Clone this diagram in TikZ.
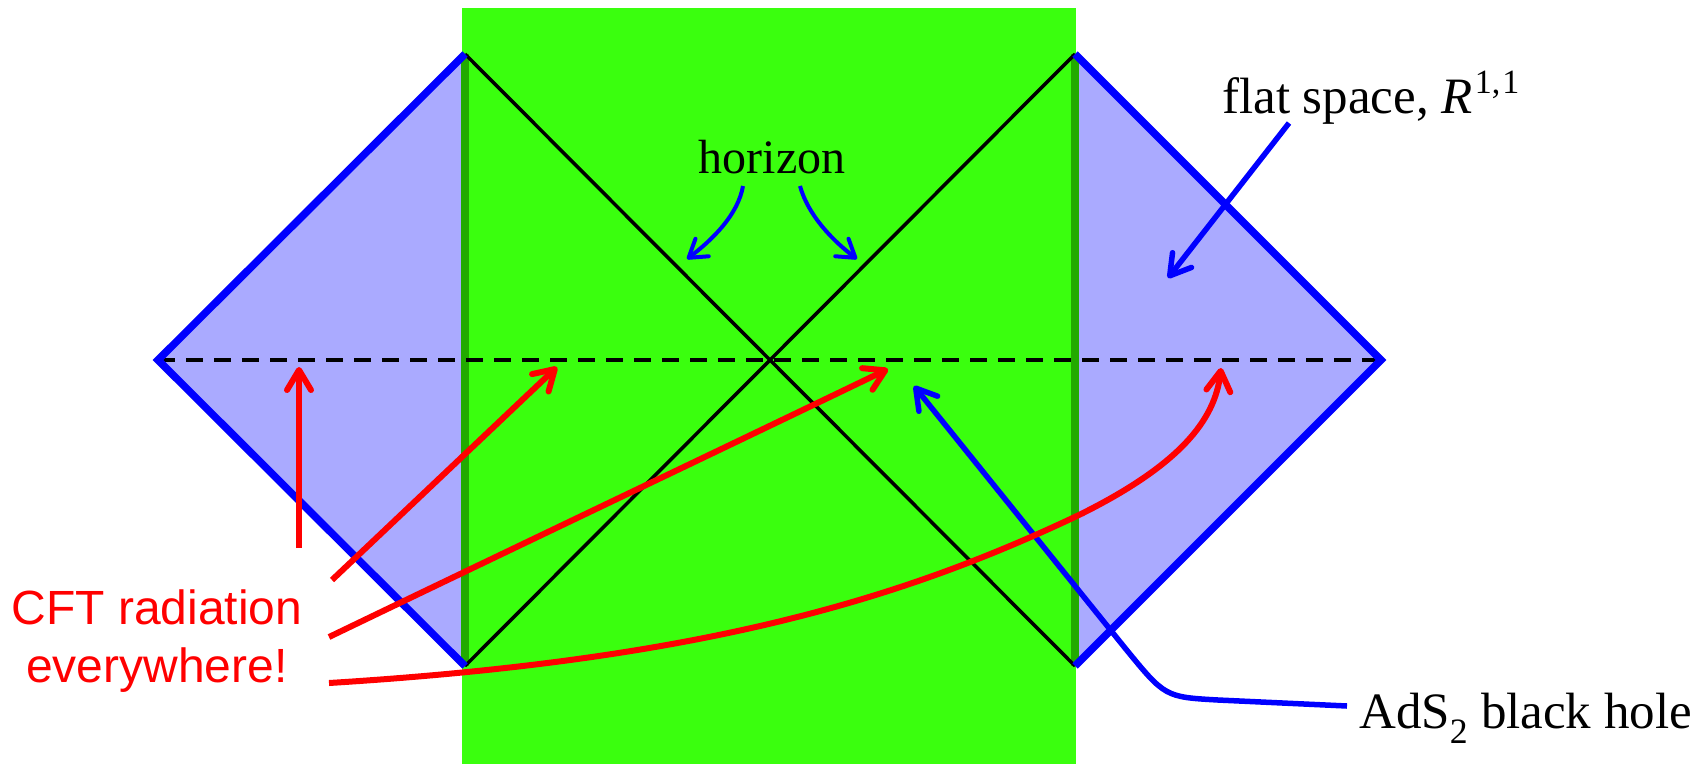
\documentclass[tikz,border=0pt]{standalone}
\usepackage{fontspec}
\setmainfont{Liberation Serif}
\newfontfamily\arialfont{Liberation Sans}
\usetikzlibrary{arrows.meta}
\definecolor{bgreen}{RGB}{58,255,14}
\definecolor{dgreen}{RGB}{34,170,0}
\definecolor{lav}{RGB}{170,170,255}
\begin{document}
\begin{tikzpicture}[x=1pt,y=-1pt,
  redarrow/.style={draw=red, line width=6pt, -{Straight Barb[length=20pt,width=24pt,round]}},
  bluearrow/.style={draw=blue, line width=5.5pt, -{Straight Barb[length=20pt,width=24pt,round]}},
  hzarrow/.style={draw=blue, line width=4pt, -{Straight Barb[length=17pt,width=22pt,round]}},
  serif/.style={font=\fontsize{51}{60}\selectfont, inner sep=0pt},
  edge/.style={draw=blue, line width=7.5pt, line join=miter}]
\useasboundingbox (0,0) rectangle (1707,764);
% diagram corners
\coordinate (L) at (158,360);
\coordinate (TL) at (465,54);
\coordinate (BL) at (465,666);
\coordinate (TR) at (1075,54);
\coordinate (R) at (1381,360);
\coordinate (BR) at (1075,666);
% regions
\fill[bgreen] (462,8) rectangle (1076,764);
\fill[lav] (L) -- (TL) -- (BL) -- cycle;
\fill[lav] (TR) -- (R) -- (BR) -- cycle;
\draw[dgreen, line width=8pt] (TL) -- (BL);
\draw[dgreen, line width=8pt] (TR) -- (BR);
\draw[black, line width=3.5pt] (TL) -- (BR);
\draw[black, line width=3.5pt] (TR) -- (BL);
\draw[black, line width=4pt, dash pattern=on 17pt off 11pt] (L) -- (R);
\draw[edge] (TL) -- (L) -- (BL);
\draw[edge] (TR) -- (R) -- (BR);
% labels
\node[serif, font=\fontsize{48}{58}\selectfont, anchor=base] (hz) at (772,173) {horizon};
\node[serif, anchor=base west] (fs) at (1222,113) {flat space, \textit{R}\kern2pt\raisebox{20pt}{\fontsize{34}{36}\selectfont 1,\kern2pt1}};
\node[serif, anchor=base west] (ads) at (1359,728) {AdS\textsubscript{2} black hole};
\node[font=\arialfont\fontsize{48}{58}\selectfont, text=red, align=center, anchor=base, inner sep=0pt] (cft) at (157,682) {CFT radiation\\everywhere!};
% horizon arrows
\coordinate (h1s) at (743,186); \coordinate (h1e) at (687,259);
\coordinate (h2s) at (800,186); \coordinate (h2e) at (857,259);
\draw[hzarrow] (h1s) .. controls (738,215) and (712,240) .. (h1e);
\draw[hzarrow] (h2s) .. controls (808,215) and (832,240) .. (h2e);
% flat space arrow
\coordinate (fss) at (1289,123); \coordinate (fse) at (1168,278);
\draw[bluearrow] (fss) -- (fse);
% AdS arrow
\coordinate (as) at (1347,706); \coordinate (am) at (1218,700);
\coordinate (ab) at (1125,648); \coordinate (ae) at (914,386);
\draw[bluearrow] (as) -- (am) .. controls (1165,697) .. (ab) -- (ae);
% CFT arrows
\coordinate (r1s) at (299,548); \coordinate (r1e) at (299,367);
\coordinate (r2s) at (332,580); \coordinate (r2e) at (557,367);
\coordinate (r3s) at (329,637); \coordinate (r3e) at (888,369);
\coordinate (r4s) at (329,683); \coordinate (r4m) at (1079,515); \coordinate (r4e) at (1221,368);
\draw[redarrow] (r1s) -- (r1e);
\draw[redarrow] (r2s) -- (r2e);
\draw[redarrow] (r3s) .. controls (520,545) and (720,450) .. (r3e);
\draw[redarrow] (r4s) .. controls (700,660) and (900,600) .. (r4m) .. controls (1180,465) and (1215,420) .. (r4e);
\end{tikzpicture}
\end{document}
